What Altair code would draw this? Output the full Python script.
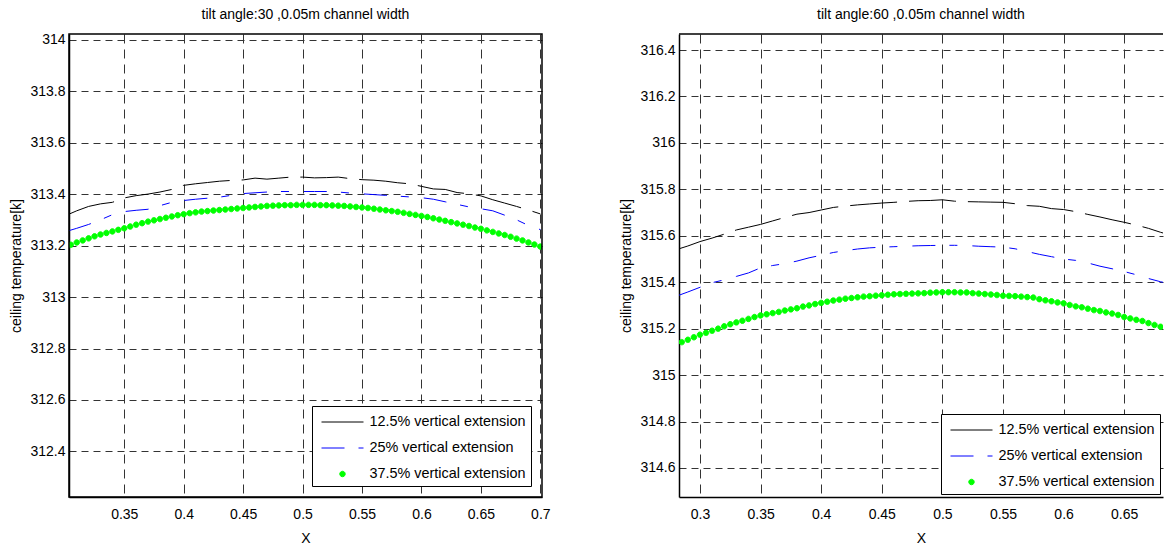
import altair as alt
import pandas as pd

FONT = "Liberation Sans"

SERIES = ["12.5% vertical extension", "25% vertical extension", "37.5% vertical extension"]
COLORS = ["black", "#0000ff", "#00ff00"]

TITLE_30 = "tilt angle:30 ,0.05m channel width"
TITLE_60 = "tilt angle:60 ,0.05m channel width"
X_TITLE = "X"
Y_TITLE = "ceiling temperature[k]"

# ---------------- tilt 30 ----------------
X30_LINE = [0.3035, 0.31, 0.32, 0.33, 0.34, 0.35, 0.36, 0.37, 0.38, 0.39, 0.40,
            0.41, 0.42, 0.43, 0.44, 0.45, 0.46, 0.47, 0.48, 0.49, 0.50,
            0.51, 0.52, 0.53, 0.54, 0.55, 0.56, 0.57, 0.58, 0.59, 0.60,
            0.61, 0.62, 0.63, 0.64, 0.65, 0.66, 0.67, 0.68, 0.69, 0.70]
Y30_BLACK = [313.322, 313.335, 313.352, 313.362, 313.368, 313.385, 313.394, 313.400, 313.408, 313.418, 313.434,
             313.440, 313.445, 313.450, 313.453, 313.455, 313.462, 313.458, 313.462, 313.466, 313.466,
             313.463, 313.464, 313.466, 313.460, 313.456, 313.454, 313.450, 313.444, 313.440, 313.430,
             313.420, 313.418, 313.406, 313.401, 313.393, 313.378, 313.365, 313.352, 313.338, 313.323]
Y30_BLUE = [313.258, 313.267, 313.282, 313.300, 313.320, 313.332, 313.337, 313.341, 313.355, 313.368, 313.375,
            313.380, 313.384, 313.388, 313.395, 313.402, 313.405, 313.408, 313.410, 313.410, 313.410,
            313.410, 313.410, 313.408, 313.404, 313.401, 313.398, 313.395, 313.392, 313.389, 313.386,
            313.380, 313.370, 313.360, 313.350, 313.343, 313.335, 313.318, 313.300, 313.278, 313.262]
X30_DOTS = [0.305, 0.31, 0.315, 0.32, 0.325, 0.33, 0.335, 0.34, 0.345, 0.35,
            0.355, 0.36, 0.365, 0.37, 0.375, 0.38, 0.385, 0.39, 0.395, 0.40,
            0.405, 0.41, 0.415, 0.42, 0.425, 0.43, 0.435, 0.44, 0.445, 0.45,
            0.455, 0.46, 0.465, 0.47, 0.475, 0.48, 0.485, 0.49, 0.495, 0.50,
            0.505, 0.51, 0.515, 0.52, 0.525, 0.53, 0.535, 0.54, 0.545, 0.55,
            0.555, 0.56, 0.565, 0.57, 0.575, 0.58, 0.585, 0.59, 0.595, 0.60,
            0.605, 0.61, 0.615, 0.62, 0.625, 0.63, 0.635, 0.64, 0.645, 0.65,
            0.655, 0.66, 0.665, 0.67, 0.675, 0.68, 0.685, 0.69, 0.695, 0.70]
Y30_DOTS = [313.203, 313.212, 313.220, 313.228, 313.236, 313.243, 313.249, 313.255, 313.261, 313.267,
            313.274, 313.281, 313.287, 313.293, 313.298, 313.303, 313.308, 313.313, 313.318, 313.322,
            313.326, 313.329, 313.332, 313.334, 313.336, 313.338, 313.340, 313.342, 313.344, 313.346,
            313.348, 313.350, 313.352, 313.354, 313.355, 313.356, 313.357, 313.357, 313.358, 313.358,
            313.358, 313.358, 313.357, 313.357, 313.356, 313.355, 313.354, 313.352, 313.350, 313.348,
            313.346, 313.343, 313.340, 313.337, 313.334, 313.331, 313.327, 313.323, 313.319, 313.315,
            313.311, 313.306, 313.301, 313.296, 313.291, 313.286, 313.281, 313.276, 313.270, 313.265,
            313.259, 313.253, 313.247, 313.241, 313.234, 313.227, 313.220, 313.212, 313.204, 313.196]
X30_DOMAIN = [0.3035, 0.7014]
Y30_DOMAIN = [312.223, 314.022]
X30_TICKS = [0.35, 0.4, 0.45, 0.5, 0.55, 0.6, 0.65, 0.7]
Y30_TICKS = [312.4, 312.6, 312.8, 313.0, 313.2, 313.4, 313.6, 313.8, 314.0]

# ---------------- tilt 60 ----------------
X60_LINE = [0.2827, 0.29, 0.30, 0.31, 0.32, 0.33, 0.34, 0.35, 0.36, 0.37, 0.38,
            0.39, 0.40, 0.41, 0.42, 0.43, 0.44, 0.45, 0.46, 0.47, 0.48,
            0.49, 0.50, 0.51, 0.52, 0.53, 0.54, 0.55, 0.56, 0.57, 0.58,
            0.59, 0.60, 0.61, 0.62, 0.63, 0.64, 0.65, 0.66, 0.67, 0.68, 0.69]
Y60_BLACK = [315.544, 315.556, 315.575, 315.590, 315.607, 315.625, 315.637, 315.649, 315.664, 315.679, 315.693,
             315.700, 315.711, 315.722, 315.728, 315.733, 315.737, 315.741, 315.744, 315.748, 315.751,
             315.752, 315.755, 315.749, 315.747, 315.746, 315.745, 315.744, 315.738, 315.730, 315.727,
             315.717, 315.713, 315.704, 315.692, 315.681, 315.669, 315.658, 315.646, 315.632, 315.615, 315.600]
Y60_BLUE = [315.344, 315.358, 315.378, 315.398, 315.410, 315.425, 315.440, 315.462, 315.472, 315.480, 315.491,
            315.505, 315.516, 315.528, 315.536, 315.543, 315.548, 315.551, 315.553, 315.555, 315.557,
            315.558, 315.559, 315.559, 315.558, 315.555, 315.553, 315.551, 315.544, 315.532, 315.520,
            315.510, 315.500, 315.494, 315.483, 315.469, 315.458, 315.446, 315.432, 315.416, 315.402, 315.390]
X60_DOTS = [0.285, 0.29, 0.295, 0.30, 0.305, 0.31, 0.315, 0.32, 0.325, 0.33,
            0.335, 0.34, 0.345, 0.35, 0.355, 0.36, 0.365, 0.37, 0.375, 0.38,
            0.385, 0.39, 0.395, 0.40, 0.405, 0.41, 0.415, 0.42, 0.425, 0.43,
            0.435, 0.44, 0.445, 0.45, 0.455, 0.46, 0.465, 0.47, 0.475, 0.48,
            0.485, 0.49, 0.495, 0.50, 0.505, 0.51, 0.515, 0.52, 0.525, 0.53,
            0.535, 0.54, 0.545, 0.55, 0.555, 0.56, 0.565, 0.57, 0.575, 0.58,
            0.585, 0.59, 0.595, 0.60, 0.605, 0.61, 0.615, 0.62, 0.625, 0.63,
            0.635, 0.64, 0.645, 0.65, 0.655, 0.66, 0.665, 0.67, 0.675, 0.68]
Y60_DOTS = [315.142, 315.152, 315.163, 315.174, 315.182, 315.191, 315.200, 315.210, 315.219, 315.227,
            315.234, 315.242, 315.250, 315.257, 315.262, 315.267, 315.272, 315.278, 315.283, 315.288,
            315.295, 315.300, 315.306, 315.311, 315.316, 315.321, 315.325, 315.329, 315.332, 315.335,
            315.338, 315.340, 315.342, 315.344, 315.346, 315.348, 315.349, 315.350, 315.351, 315.352,
            315.353, 315.355, 315.356, 315.357, 315.357, 315.357, 315.356, 315.356, 315.353, 315.351,
            315.349, 315.347, 315.345, 315.342, 315.341, 315.340, 315.338, 315.336, 315.334, 315.327,
            315.322, 315.318, 315.313, 315.309, 315.302, 315.296, 315.292, 315.286, 315.280, 315.276,
            315.270, 315.265, 315.259, 315.250, 315.244, 315.238, 315.233, 315.224, 315.216, 315.208]
X60_DOMAIN = [0.2827, 0.682]
Y60_DOMAIN = [314.475, 316.469]
X60_TICKS = [0.3, 0.35, 0.4, 0.45, 0.5, 0.55, 0.6, 0.65]
Y60_TICKS = [314.6, 314.8, 315.0, 315.2, 315.4, 315.6, 315.8, 316.0, 316.2, 316.4]

LINE_PATH = "M-2,0L2,0"
DOT_PATH = "M-0.26,0A0.26,0.26 0 1,1 0.26,0A0.26,0.26 0 1,1 -0.26,0Z"
DASHES = [[47, 12], [23, 14, 8, 15], [1, 0]]
SYM_SIZE = 441


def panel(title, x_line, y_black, y_blue, x_dots, y_dots, xdom, ydom, xticks, yticks,
          width, height, leg_x, leg_y, full_box):
    df_black = pd.DataFrame({"x": x_line, "y": y_black})
    df_blue = pd.DataFrame({"x": x_line, "y": y_blue})
    df_dots = pd.DataFrame({"x": x_dots, "y": y_dots, "series": SERIES[2]})

    xenc = alt.X("x:Q", scale=alt.Scale(domain=xdom, nice=False, zero=False),
                 axis=alt.Axis(values=xticks, format=".2~f", title=X_TITLE, grid=True,
                               gridDash=[9, 6], gridColor="#333333", gridWidth=1,
                               ticks=False, domainColor="black", domainWidth=1.5,
                               labelPadding=10, titlePadding=10, labelFlush=False,
                               labelOverlap=False))
    yenc = alt.Y("y:Q", scale=alt.Scale(domain=ydom, nice=False, zero=False),
                 axis=alt.Axis(values=yticks, format=".1~f", title=Y_TITLE, grid=True,
                               gridDash=[7, 5], gridColor="#333333", gridWidth=1,
                               ticks=False, domainColor="black", domainWidth=1.5,
                               labelPadding=4, titlePadding=6, labelFlush=False,
                               labelOverlap=False))

    legend = alt.Legend(title=None, orient="none", legendX=leg_x, legendY=leg_y,
                        direction="vertical", strokeColor="black", fillColor="white",
                        padding=5, symbolSize=SYM_SIZE, symbolStrokeWidth=1, symbolOpacity=1,
                        symbolOffset=14.5, labelOffset=16, rowPadding=8, labelFontSize=14.4,
                        labelFont=FONT, labelColor="black", cornerRadius=0)

    black = alt.Chart(df_black).mark_line(color="black", strokeDash=DASHES[0],
                                          strokeWidth=1, clip=True).encode(x=xenc, y=yenc)
    blue = alt.Chart(df_blue).mark_line(color="#0000ff", strokeDash=DASHES[1],
                                        strokeWidth=1, clip=True).encode(x=xenc, y=yenc)
    dots = alt.Chart(df_dots).mark_point(filled=True, size=SYM_SIZE, opacity=1, strokeWidth=1,
                                         clip=True).encode(
        x=xenc, y=yenc,
        color=alt.Color("series:N", scale=alt.Scale(domain=SERIES, range=COLORS), legend=legend),
        stroke=alt.Stroke("series:N", scale=alt.Scale(domain=SERIES, range=COLORS), legend=legend),
        shape=alt.Shape("series:N", scale=alt.Scale(domain=SERIES,
                                                    range=[LINE_PATH, LINE_PATH, DOT_PATH]),
                        legend=legend),
        strokeDash=alt.StrokeDash("series:N", scale=alt.Scale(domain=SERIES, range=DASHES),
                                  legend=legend),
    )

    one = pd.DataFrame({"k": [0]})
    if full_box:
        frame = alt.Chart(one).mark_rect(fillOpacity=0, stroke="black", strokeWidth=1.5).encode(
            x=alt.value(0), x2=alt.value(width), y=alt.value(0), y2=alt.value(height))
    else:
        frame = alt.Chart(one).mark_rule(color="black", strokeWidth=1.5).encode(
            x=alt.value(0), x2=alt.value(width), y=alt.value(0))

    return alt.layer(black, blue, dots, frame).properties(
        width=width, height=height,
        title=alt.TitleParams(text=title, fontSize=14, fontWeight="normal", font=FONT,
                              color="black", anchor="middle", offset=11),
    )


left = panel(TITLE_30, X30_LINE, Y30_BLACK, Y30_BLUE, X30_DOTS, Y30_DOTS,
             X30_DOMAIN, Y30_DOMAIN, X30_TICKS, Y30_TICKS, 473, 463, 243, 372, True)
right = panel(TITLE_60, X60_LINE, Y60_BLACK, Y60_BLUE, X60_DOTS, Y60_DOTS,
              X60_DOMAIN, Y60_DOMAIN, X60_TICKS, Y60_TICKS, 484, 463, 262, 380, False)

chart = alt.hconcat(left, right, spacing=68).resolve_scale(
    color="independent", stroke="independent", shape="independent", strokeDash="independent"
).resolve_legend(
    color="independent", stroke="independent", shape="independent", strokeDash="independent"
).configure_view(stroke=None).configure_axis(
    labelFont=FONT, titleFont=FONT, labelFontSize=14, titleFontSize=14,
    labelColor="black", titleColor="black", titleFontWeight="normal"
).properties(padding={"left": 9, "top": 7, "right": 0, "bottom": 0})

chart.save("out.html", embed_options={"renderer": "svg", "actions": False})
